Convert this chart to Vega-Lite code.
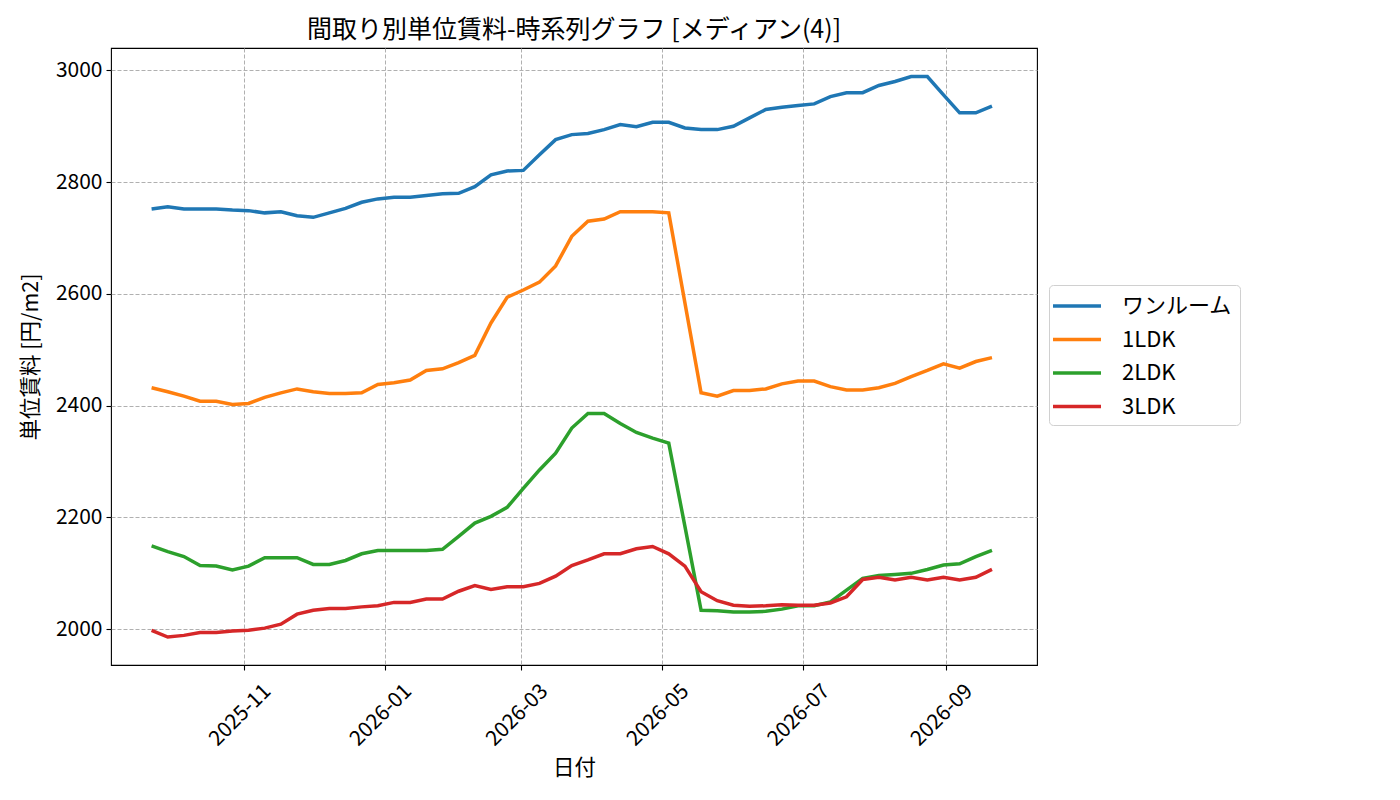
{
  "$schema": "https://vega.github.io/schema/vega-lite/v6.json",
  "autosize": {"type": "none"},
  "padding": {"left": 111, "top": 48, "right": 363, "bottom": 135},
  "width": 926,
  "height": 617,
  "background": "white",
  "title": {
    "text": "間取り別単位賃料-時系列グラフ [メディアン(4)]",
    "font": "Noto Sans CJK JP",
    "fontSize": 25,
    "fontWeight": "normal",
    "color": "black",
    "anchor": "middle",
    "offset": 5
  },
  "config": {
    "view": {"stroke": "black", "strokeWidth": 1.1},
    "axis": {
      "labelFont": "Noto Sans CJK JP",
      "labelFontSize": 21,
      "labelColor": "black",
      "titleFont": "Noto Sans CJK JP",
      "titleFontSize": 21.5,
      "titleFontWeight": "normal",
      "titleColor": "black",
      "domain": false,
      "tickColor": "black",
      "tickSize": 5,
      "tickWidth": 1.1,
      "gridColor": "#b0b0b0",
      "gridDash": [4, 2],
      "gridWidth": 1
    },
    "legend": {
      "labelFont": "Noto Sans CJK JP",
      "labelFontSize": 22,
      "labelColor": "black"
    }
  },
  "data": {
    "values": [
      {"date": "2025-09-22", "type": "ワンルーム", "value": 2752},
      {"date": "2025-09-29", "type": "ワンルーム", "value": 2756},
      {"date": "2025-10-06", "type": "ワンルーム", "value": 2752},
      {"date": "2025-10-13", "type": "ワンルーム", "value": 2752},
      {"date": "2025-10-20", "type": "ワンルーム", "value": 2752},
      {"date": "2025-10-27", "type": "ワンルーム", "value": 2750},
      {"date": "2025-11-03", "type": "ワンルーム", "value": 2749},
      {"date": "2025-11-10", "type": "ワンルーム", "value": 2745},
      {"date": "2025-11-17", "type": "ワンルーム", "value": 2747},
      {"date": "2025-11-24", "type": "ワンルーム", "value": 2740},
      {"date": "2025-12-01", "type": "ワンルーム", "value": 2737},
      {"date": "2025-12-08", "type": "ワンルーム", "value": 2745},
      {"date": "2025-12-15", "type": "ワンルーム", "value": 2753},
      {"date": "2025-12-22", "type": "ワンルーム", "value": 2764},
      {"date": "2025-12-29", "type": "ワンルーム", "value": 2770},
      {"date": "2026-01-05", "type": "ワンルーム", "value": 2773},
      {"date": "2026-01-12", "type": "ワンルーム", "value": 2773},
      {"date": "2026-01-19", "type": "ワンルーム", "value": 2776},
      {"date": "2026-01-26", "type": "ワンルーム", "value": 2779},
      {"date": "2026-02-02", "type": "ワンルーム", "value": 2780},
      {"date": "2026-02-09", "type": "ワンルーム", "value": 2792},
      {"date": "2026-02-16", "type": "ワンルーム", "value": 2813},
      {"date": "2026-02-23", "type": "ワンルーム", "value": 2820},
      {"date": "2026-03-02", "type": "ワンルーム", "value": 2821},
      {"date": "2026-03-09", "type": "ワンルーム", "value": 2849},
      {"date": "2026-03-16", "type": "ワンルーム", "value": 2876},
      {"date": "2026-03-23", "type": "ワンルーム", "value": 2885},
      {"date": "2026-03-30", "type": "ワンルーム", "value": 2887},
      {"date": "2026-04-06", "type": "ワンルーム", "value": 2894},
      {"date": "2026-04-13", "type": "ワンルーム", "value": 2903},
      {"date": "2026-04-20", "type": "ワンルーム", "value": 2899},
      {"date": "2026-04-27", "type": "ワンルーム", "value": 2907},
      {"date": "2026-05-04", "type": "ワンルーム", "value": 2907},
      {"date": "2026-05-11", "type": "ワンルーム", "value": 2897},
      {"date": "2026-05-18", "type": "ワンルーム", "value": 2894},
      {"date": "2026-05-25", "type": "ワンルーム", "value": 2894},
      {"date": "2026-06-01", "type": "ワンルーム", "value": 2900},
      {"date": "2026-06-08", "type": "ワンルーム", "value": 2915},
      {"date": "2026-06-15", "type": "ワンルーム", "value": 2930},
      {"date": "2026-06-22", "type": "ワンルーム", "value": 2934},
      {"date": "2026-06-29", "type": "ワンルーム", "value": 2937},
      {"date": "2026-07-06", "type": "ワンルーム", "value": 2940},
      {"date": "2026-07-13", "type": "ワンルーム", "value": 2953},
      {"date": "2026-07-20", "type": "ワンルーム", "value": 2960},
      {"date": "2026-07-27", "type": "ワンルーム", "value": 2960},
      {"date": "2026-08-03", "type": "ワンルーム", "value": 2973},
      {"date": "2026-08-10", "type": "ワンルーム", "value": 2980},
      {"date": "2026-08-17", "type": "ワンルーム", "value": 2989},
      {"date": "2026-08-24", "type": "ワンルーム", "value": 2989},
      {"date": "2026-08-31", "type": "ワンルーム", "value": 2956},
      {"date": "2026-09-07", "type": "ワンルーム", "value": 2924},
      {"date": "2026-09-14", "type": "ワンルーム", "value": 2924},
      {"date": "2026-09-21", "type": "ワンルーム", "value": 2936},
      {"date": "2025-09-22", "type": "1LDK", "value": 2432},
      {"date": "2025-09-29", "type": "1LDK", "value": 2425},
      {"date": "2025-10-06", "type": "1LDK", "value": 2417},
      {"date": "2025-10-13", "type": "1LDK", "value": 2408},
      {"date": "2025-10-20", "type": "1LDK", "value": 2408},
      {"date": "2025-10-27", "type": "1LDK", "value": 2402},
      {"date": "2025-11-03", "type": "1LDK", "value": 2404},
      {"date": "2025-11-10", "type": "1LDK", "value": 2415},
      {"date": "2025-11-17", "type": "1LDK", "value": 2423},
      {"date": "2025-11-24", "type": "1LDK", "value": 2430},
      {"date": "2025-12-01", "type": "1LDK", "value": 2425},
      {"date": "2025-12-08", "type": "1LDK", "value": 2422},
      {"date": "2025-12-15", "type": "1LDK", "value": 2422},
      {"date": "2025-12-22", "type": "1LDK", "value": 2423},
      {"date": "2025-12-29", "type": "1LDK", "value": 2438},
      {"date": "2026-01-05", "type": "1LDK", "value": 2441},
      {"date": "2026-01-12", "type": "1LDK", "value": 2446},
      {"date": "2026-01-19", "type": "1LDK", "value": 2463},
      {"date": "2026-01-26", "type": "1LDK", "value": 2466},
      {"date": "2026-02-02", "type": "1LDK", "value": 2477},
      {"date": "2026-02-09", "type": "1LDK", "value": 2490},
      {"date": "2026-02-16", "type": "1LDK", "value": 2548},
      {"date": "2026-02-23", "type": "1LDK", "value": 2594},
      {"date": "2026-03-02", "type": "1LDK", "value": 2607},
      {"date": "2026-03-09", "type": "1LDK", "value": 2621},
      {"date": "2026-03-16", "type": "1LDK", "value": 2650},
      {"date": "2026-03-23", "type": "1LDK", "value": 2703},
      {"date": "2026-03-30", "type": "1LDK", "value": 2730},
      {"date": "2026-04-06", "type": "1LDK", "value": 2734},
      {"date": "2026-04-13", "type": "1LDK", "value": 2747},
      {"date": "2026-04-20", "type": "1LDK", "value": 2747},
      {"date": "2026-04-27", "type": "1LDK", "value": 2747},
      {"date": "2026-05-04", "type": "1LDK", "value": 2745},
      {"date": "2026-05-11", "type": "1LDK", "value": 2584},
      {"date": "2026-05-18", "type": "1LDK", "value": 2423},
      {"date": "2026-05-25", "type": "1LDK", "value": 2417},
      {"date": "2026-06-01", "type": "1LDK", "value": 2427},
      {"date": "2026-06-08", "type": "1LDK", "value": 2427},
      {"date": "2026-06-15", "type": "1LDK", "value": 2430},
      {"date": "2026-06-22", "type": "1LDK", "value": 2439},
      {"date": "2026-06-29", "type": "1LDK", "value": 2444},
      {"date": "2026-07-06", "type": "1LDK", "value": 2444},
      {"date": "2026-07-13", "type": "1LDK", "value": 2434},
      {"date": "2026-07-20", "type": "1LDK", "value": 2428},
      {"date": "2026-07-27", "type": "1LDK", "value": 2428},
      {"date": "2026-08-03", "type": "1LDK", "value": 2432},
      {"date": "2026-08-10", "type": "1LDK", "value": 2440},
      {"date": "2026-08-17", "type": "1LDK", "value": 2452},
      {"date": "2026-08-24", "type": "1LDK", "value": 2463},
      {"date": "2026-08-31", "type": "1LDK", "value": 2475},
      {"date": "2026-09-07", "type": "1LDK", "value": 2467},
      {"date": "2026-09-14", "type": "1LDK", "value": 2479},
      {"date": "2026-09-21", "type": "1LDK", "value": 2486},
      {"date": "2025-09-22", "type": "2LDK", "value": 2149},
      {"date": "2025-09-29", "type": "2LDK", "value": 2139},
      {"date": "2025-10-06", "type": "2LDK", "value": 2130},
      {"date": "2025-10-13", "type": "2LDK", "value": 2114},
      {"date": "2025-10-20", "type": "2LDK", "value": 2113},
      {"date": "2025-10-27", "type": "2LDK", "value": 2106},
      {"date": "2025-11-03", "type": "2LDK", "value": 2113},
      {"date": "2025-11-10", "type": "2LDK", "value": 2128},
      {"date": "2025-11-17", "type": "2LDK", "value": 2128},
      {"date": "2025-11-24", "type": "2LDK", "value": 2128},
      {"date": "2025-12-01", "type": "2LDK", "value": 2116},
      {"date": "2025-12-08", "type": "2LDK", "value": 2116},
      {"date": "2025-12-15", "type": "2LDK", "value": 2123},
      {"date": "2025-12-22", "type": "2LDK", "value": 2135},
      {"date": "2025-12-29", "type": "2LDK", "value": 2141},
      {"date": "2026-01-05", "type": "2LDK", "value": 2141},
      {"date": "2026-01-12", "type": "2LDK", "value": 2141},
      {"date": "2026-01-19", "type": "2LDK", "value": 2141},
      {"date": "2026-01-26", "type": "2LDK", "value": 2143},
      {"date": "2026-02-02", "type": "2LDK", "value": 2166},
      {"date": "2026-02-09", "type": "2LDK", "value": 2190},
      {"date": "2026-02-16", "type": "2LDK", "value": 2202},
      {"date": "2026-02-23", "type": "2LDK", "value": 2218},
      {"date": "2026-03-02", "type": "2LDK", "value": 2252},
      {"date": "2026-03-09", "type": "2LDK", "value": 2285},
      {"date": "2026-03-16", "type": "2LDK", "value": 2315},
      {"date": "2026-03-23", "type": "2LDK", "value": 2360},
      {"date": "2026-03-30", "type": "2LDK", "value": 2386},
      {"date": "2026-04-06", "type": "2LDK", "value": 2386},
      {"date": "2026-04-13", "type": "2LDK", "value": 2368},
      {"date": "2026-04-20", "type": "2LDK", "value": 2352},
      {"date": "2026-04-27", "type": "2LDK", "value": 2342},
      {"date": "2026-05-04", "type": "2LDK", "value": 2333},
      {"date": "2026-05-11", "type": "2LDK", "value": 2184},
      {"date": "2026-05-18", "type": "2LDK", "value": 2034},
      {"date": "2026-05-25", "type": "2LDK", "value": 2033},
      {"date": "2026-06-01", "type": "2LDK", "value": 2031},
      {"date": "2026-06-08", "type": "2LDK", "value": 2031},
      {"date": "2026-06-15", "type": "2LDK", "value": 2032},
      {"date": "2026-06-22", "type": "2LDK", "value": 2036},
      {"date": "2026-06-29", "type": "2LDK", "value": 2042},
      {"date": "2026-07-06", "type": "2LDK", "value": 2042},
      {"date": "2026-07-13", "type": "2LDK", "value": 2049},
      {"date": "2026-07-20", "type": "2LDK", "value": 2070},
      {"date": "2026-07-27", "type": "2LDK", "value": 2091},
      {"date": "2026-08-03", "type": "2LDK", "value": 2096},
      {"date": "2026-08-10", "type": "2LDK", "value": 2098},
      {"date": "2026-08-17", "type": "2LDK", "value": 2100},
      {"date": "2026-08-24", "type": "2LDK", "value": 2107},
      {"date": "2026-08-31", "type": "2LDK", "value": 2115},
      {"date": "2026-09-07", "type": "2LDK", "value": 2117},
      {"date": "2026-09-14", "type": "2LDK", "value": 2130},
      {"date": "2026-09-21", "type": "2LDK", "value": 2141},
      {"date": "2025-09-22", "type": "3LDK", "value": 1998},
      {"date": "2025-09-29", "type": "3LDK", "value": 1986},
      {"date": "2025-10-06", "type": "3LDK", "value": 1989},
      {"date": "2025-10-13", "type": "3LDK", "value": 1994},
      {"date": "2025-10-20", "type": "3LDK", "value": 1994},
      {"date": "2025-10-27", "type": "3LDK", "value": 1997},
      {"date": "2025-11-03", "type": "3LDK", "value": 1998},
      {"date": "2025-11-10", "type": "3LDK", "value": 2002},
      {"date": "2025-11-17", "type": "3LDK", "value": 2009},
      {"date": "2025-11-24", "type": "3LDK", "value": 2027},
      {"date": "2025-12-01", "type": "3LDK", "value": 2034},
      {"date": "2025-12-08", "type": "3LDK", "value": 2037},
      {"date": "2025-12-15", "type": "3LDK", "value": 2037},
      {"date": "2025-12-22", "type": "3LDK", "value": 2040},
      {"date": "2025-12-29", "type": "3LDK", "value": 2042},
      {"date": "2026-01-05", "type": "3LDK", "value": 2048},
      {"date": "2026-01-12", "type": "3LDK", "value": 2048},
      {"date": "2026-01-19", "type": "3LDK", "value": 2054},
      {"date": "2026-01-26", "type": "3LDK", "value": 2054},
      {"date": "2026-02-02", "type": "3LDK", "value": 2068},
      {"date": "2026-02-09", "type": "3LDK", "value": 2078},
      {"date": "2026-02-16", "type": "3LDK", "value": 2071},
      {"date": "2026-02-23", "type": "3LDK", "value": 2076},
      {"date": "2026-03-02", "type": "3LDK", "value": 2076},
      {"date": "2026-03-09", "type": "3LDK", "value": 2082},
      {"date": "2026-03-16", "type": "3LDK", "value": 2095},
      {"date": "2026-03-23", "type": "3LDK", "value": 2114},
      {"date": "2026-03-30", "type": "3LDK", "value": 2124},
      {"date": "2026-04-06", "type": "3LDK", "value": 2135},
      {"date": "2026-04-13", "type": "3LDK", "value": 2135},
      {"date": "2026-04-20", "type": "3LDK", "value": 2144},
      {"date": "2026-04-27", "type": "3LDK", "value": 2148},
      {"date": "2026-05-04", "type": "3LDK", "value": 2135},
      {"date": "2026-05-11", "type": "3LDK", "value": 2113},
      {"date": "2026-05-18", "type": "3LDK", "value": 2067},
      {"date": "2026-05-25", "type": "3LDK", "value": 2051},
      {"date": "2026-06-01", "type": "3LDK", "value": 2043},
      {"date": "2026-06-08", "type": "3LDK", "value": 2041},
      {"date": "2026-06-15", "type": "3LDK", "value": 2042},
      {"date": "2026-06-22", "type": "3LDK", "value": 2044},
      {"date": "2026-06-29", "type": "3LDK", "value": 2043},
      {"date": "2026-07-06", "type": "3LDK", "value": 2043},
      {"date": "2026-07-13", "type": "3LDK", "value": 2047},
      {"date": "2026-07-20", "type": "3LDK", "value": 2058},
      {"date": "2026-07-27", "type": "3LDK", "value": 2089},
      {"date": "2026-08-03", "type": "3LDK", "value": 2093},
      {"date": "2026-08-10", "type": "3LDK", "value": 2088},
      {"date": "2026-08-17", "type": "3LDK", "value": 2093},
      {"date": "2026-08-24", "type": "3LDK", "value": 2088},
      {"date": "2026-08-31", "type": "3LDK", "value": 2093},
      {"date": "2026-09-07", "type": "3LDK", "value": 2088},
      {"date": "2026-09-14", "type": "3LDK", "value": 2093},
      {"date": "2026-09-21", "type": "3LDK", "value": 2107}
    ]
  },
  "mark": {"type": "line", "strokeWidth": 3.5, "clip": true},
  "encoding": {
    "x": {
      "field": "date",
      "type": "temporal",
      "scale": {
        "type": "utc",
        "domain": [
          {"year": 2025, "month": 9, "date": 4, "hours": 10, "utc": true},
          {"year": 2026, "month": 10, "date": 10, "hours": 12, "utc": true}
        ]
      },
      "axis": {
        "title": "日付",
        "values": [
          {"year": 2025, "month": 11, "date": 1, "utc": true},
          {"year": 2026, "month": 1, "date": 1, "utc": true},
          {"year": 2026, "month": 3, "date": 1, "utc": true},
          {"year": 2026, "month": 5, "date": 1, "utc": true},
          {"year": 2026, "month": 7, "date": 1, "utc": true},
          {"year": 2026, "month": 9, "date": 1, "utc": true}
        ],
        "labelExpr": "utcFormat(datum.value, '%Y-%m')",
        "labelAngle": -45,
        "labelAlign": "center",
        "labelBaseline": "middle",
        "labelPadding": 45,
        "labelOffset": -4,
        "titlePadding": 8
      }
    },
    "y": {
      "field": "value",
      "type": "quantitative",
      "scale": {"domain": [1936, 3040], "nice": false, "zero": false},
      "axis": {
        "title": "単位賃料 [円/m2]",
        "values": [2000, 2200, 2400, 2600, 2800, 3000],
        "format": "d",
        "labelPadding": 4,
        "titlePadding": 13
      }
    },
    "color": {
      "field": "type",
      "type": "nominal",
      "sort": ["ワンルーム", "1LDK", "2LDK", "3LDK"],
      "scale": {
        "domain": ["ワンルーム", "1LDK", "2LDK", "3LDK"],
        "range": ["#1f77b4", "#ff7f0e", "#2ca02c", "#d62728"]
      },
      "legend": {
        "title": null,
        "orient": "none",
        "legendX": 938,
        "legendY": 237,
        "strokeColor": "#d0d0d0",
        "fillColor": "white",
        "cornerRadius": 4,
        "padding": 7,
        "symbolType": "M-2,0H2",
        "symbolSize": 576,
        "symbolStrokeWidth": 3.5,
        "symbolOffset": 7,
        "labelOffset": 31,
        "rowPadding": 8.5
      }
    }
  }
}
